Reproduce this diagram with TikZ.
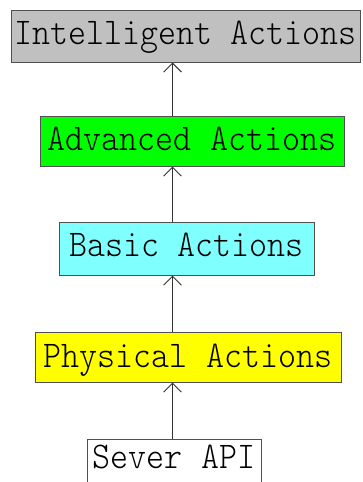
\documentclass[tikz,border=0pt]{standalone}
\usepackage{fontspec}
\setmonofont{Latin Modern Mono Light}
\usetikzlibrary{arrows.meta}
\definecolor{boxgray}{HTML}{C0C0C0}
\definecolor{boxgreen}{HTML}{00FF00}
\definecolor{boxcyan}{HTML}{80FFFF}
\definecolor{boxyellow}{HTML}{FFFF00}
\definecolor{edge}{HTML}{505050}
\definecolor{arrowc}{HTML}{333333}
\newcommand{\lbl}[1]{\scalebox{1}[1.1]{\ttfamily\fontsize{34.3}{34.3}\selectfont #1}}
\begin{document}
\begin{tikzpicture}[x=1pt,y=-1pt,
  layer/.style={draw=edge, line width=1pt, inner sep=0pt, align=center},
  up/.style={draw=arrowc, line width=0.9pt, -{Straight Barb[length=9pt,width=18pt]}}]
\useasboundingbox (0,0) rectangle (363,482);
\clip (0,0) rectangle (363,482);
\node[layer, fill=boxgray, minimum width=349pt, text height=34pt, text depth=18pt] (intel) at (185.5,36) {\lbl{Intelligent Actions}};
\node[layer, fill=boxgreen, minimum width=304pt, text height=34pt, text depth=16pt] (adv) at (192,141) {\lbl{Advanced Actions}};
\node[layer, fill=boxcyan, minimum width=255pt, text height=34pt, text depth=19pt] (basic) at (186.5,248.5) {\lbl{Basic Actions}};
\node[layer, fill=boxyellow, minimum width=306pt, text height=35pt, text depth=15pt] (phys) at (188,357) {\lbl{Physical Actions}};
\node[layer, fill=white, minimum width=174pt, text height=29pt, text depth=22pt] (sever) at (174,464.5) {\lbl{Sever API}};
\coordinate (ax) at (172.5,0);
\draw[up] (sever.north -| ax) -- (phys.south -| ax);
\draw[up] (phys.north -| ax) -- (basic.south -| ax);
\draw[up] (basic.north -| ax) -- (adv.south -| ax);
\draw[up] (adv.north -| ax) -- (intel.south -| ax);
\end{tikzpicture}
\end{document}
